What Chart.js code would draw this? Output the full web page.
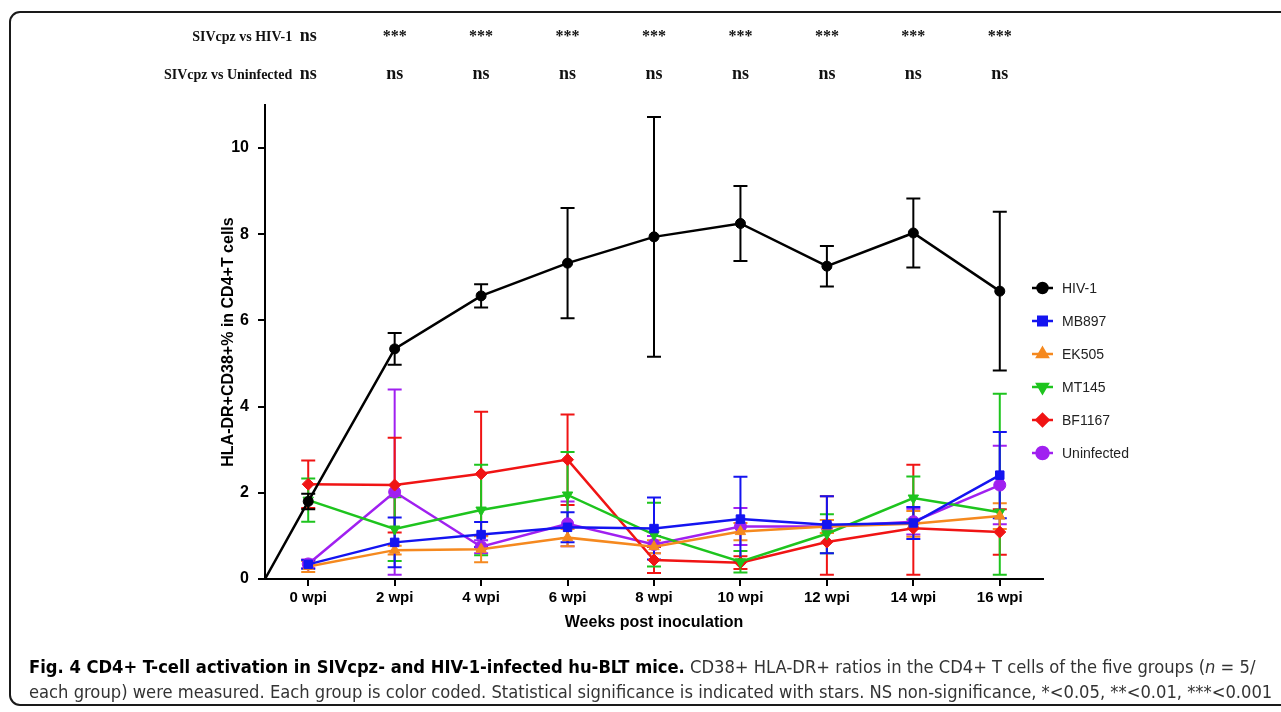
<!DOCTYPE html>
<html lang="en">
<head>
    <meta charset="UTF-8">
    <title>CD4+ T-cell activation</title>
    <script src="https://cdn.jsdelivr.net/npm/chart.js"></script>
    <style>
        html, body { margin: 0; padding: 0; background: #fff; overflow: hidden; }
        #frame {
            position: absolute; left: 9px; top: 11px; width: 1300px; height: 695px;
            border: 2px solid #1a1a1a; border-radius: 11px; box-sizing: border-box;
        }
        #chart-box { position: absolute; left: 0; top: 0; width: 1281px; height: 712px; }
        .caption {
            position: absolute; left: 29px; white-space: nowrap; color: #333;
            font-family: "Liberation Sans Narrow", "DejaVu Sans Condensed", "Liberation Sans", sans-serif;
            font-size: 18.2px;
        }
        .caption b { color: #000; }
    </style>
</head>
<body>
    <div id="frame"></div>
    <div id="chart-box"><canvas id="activation-chart"></canvas></div>
    <div class="caption" style="top:656px"><b>Fig. 4 CD4+ T-cell activation in SIVcpz- and HIV-1-infected hu-BLT mice.</b> CD38+ HLA-DR+ ratios in the CD4+ T cells of the five groups (<i>n</i> = 5/</div>
    <div class="caption" style="top:681px">each group) were measured. Each group is color coded. Statistical significance is indicated with stars. NS non-significance, *&lt;0.05, **&lt;0.01, ***&lt;0.001</div>

    <script>
        // weeks post inoculation
        const weeks = [0, 2, 4, 6, 8, 10, 12, 14, 16];
        const weekLabels = ['0 wpi', '2 wpi', '4 wpi', '6 wpi', '8 wpi', '10 wpi', '12 wpi', '14 wpi', '16 wpi'];
        const yTicks = [0, 2, 4, 6, 8, 10];

        // HIV-1 line starts from the axis origin
        const hivOrigin = [-1, 0];

        const hivValues = [1.8, 5.34, 6.57, 7.33, 7.94, 8.25, 7.26, 8.03, 6.68];
        const hivSem = [0.18, 0.37, 0.27, 1.28, 2.78, 0.87, 0.47, 0.8, 1.84];

        const mb897Values = [0.34, 0.85, 1.03, 1.2, 1.17, 1.39, 1.26, 1.3, 2.41];
        const mb897Sem = [0.1, 0.58, 0.29, 0.35, 0.72, 0.98, 0.66, 0.37, 1.0];

        const ek505Values = [0.29, 0.67, 0.69, 0.96, 0.75, 1.1, 1.22, 1.28, 1.46];
        const ek505Sem = [0.13, 0.1, 0.3, 0.2, 0.15, 0.2, 0.15, 0.3, 0.3];

        const mt145Values = [1.83, 1.16, 1.6, 1.95, 1.03, 0.4, 1.05, 1.88, 1.55];
        const mt145Sem = [0.5, 0.74, 1.05, 1.0, 0.74, 0.25, 0.45, 0.5, 2.75];

        const bf1167Values = [2.2, 2.18, 2.44, 2.77, 0.44, 0.38, 0.86, 1.18, 1.09];
        const bf1167Sem = [0.55, 1.1, 1.44, 1.05, 0.3, 0.15, 1.06, 1.47, 0.53];

        const uninfValues = [0.35, 2.02, 0.75, 1.28, 0.8, 1.22, 1.22, 1.33, 2.18];
        const uninfSem = [0.1, 2.38, 0.15, 0.52, 0.2, 0.43, 0.15, 0.3, 0.91];

        // significance rows above the plot
        const sigVsHiv = ['ns', '***', '***', '***', '***', '***', '***', '***', '***'];
        const sigVsUninfected = ['ns', 'ns', 'ns', 'ns', 'ns', 'ns', 'ns', 'ns', 'ns'];

        const groups = [
            { label: 'HIV-1', values: hivValues, sem: hivSem, color: '#000000', style: 'circle', radius: 5, rotation: 0 },
            { label: 'MB897', values: mb897Values, sem: mb897Sem, color: '#1414f0', style: 'rect', radius: 6, rotation: 0 },
            { label: 'EK505', values: ek505Values, sem: ek505Sem, color: '#f5891f', style: 'triangle', radius: 6, rotation: 0 },
            { label: 'MT145', values: mt145Values, sem: mt145Sem, color: '#1ec41e', style: 'triangle', radius: 6, rotation: 180 },
            { label: 'BF1167', values: bf1167Values, sem: bf1167Sem, color: '#f01414', style: 'rectRot', radius: 6, rotation: 0 },
            { label: 'Uninfected', values: uninfValues, sem: uninfSem, color: '#a020f0', style: 'circle', radius: 6, rotation: 0 }
        ];

        function buildDataset(g, i) {
            const pts = weeks.map((w, j) => ({ x: w, y: g.values[j] }));
            if (i === 0) pts.unshift({ x: hivOrigin[0], y: hivOrigin[1] });
            return {
                label: g.label,
                data: pts,
                borderColor: g.color,
                backgroundColor: g.color,
                borderWidth: 2.5,
                tension: 0,
                fill: false,
                pointStyle: g.style,
                rotation: g.rotation,
                pointRadius: ctx => (i === 0 && ctx.dataIndex === 0) ? 0 : g.radius,
                pointBorderWidth: 1,
                pointHoverRadius: g.radius
            };
        }

        const errorBars = {
            id: 'errorBars',
            beforeDatasetsDraw(chart) {
                const { ctx, scales: { x, y } } = chart;
                ctx.save();
                ctx.lineWidth = 2;
                groups.slice().reverse().forEach(g => {
                    ctx.strokeStyle = g.color;
                    weeks.forEach((w, j) => {
                        const px = x.getPixelForValue(w);
                        const top = y.getPixelForValue(g.values[j] + g.sem[j]);
                        // low whiskers stop just above the axis
                        const bot = y.getPixelForValue(Math.max(g.values[j] - g.sem[j], 0.1));
                        ctx.beginPath();
                        ctx.moveTo(px, top); ctx.lineTo(px, bot);
                        ctx.moveTo(px - 7, top); ctx.lineTo(px + 7, top);
                        ctx.moveTo(px - 7, bot); ctx.lineTo(px + 7, bot);
                        ctx.stroke();
                    });
                });
                ctx.restore();
            }
        };

        const sideLegend = {
            id: 'sideLegend',
            afterDraw(chart) {
                const ctx = chart.ctx;
                ctx.save();
                groups.forEach((g, i) => {
                    const yy = 288 + i * 33;
                    ctx.strokeStyle = g.color;
                    ctx.fillStyle = g.color;
                    ctx.lineWidth = 2.5;
                    ctx.beginPath();
                    ctx.moveTo(1032, yy); ctx.lineTo(1053, yy);
                    ctx.stroke();
                    if (Chart.helpers && Chart.helpers.drawPoint) {
                        Chart.helpers.drawPoint(ctx, { pointStyle: g.style, radius: g.radius, rotation: g.rotation, borderWidth: 1 }, 1042.5, yy);
                    } else {
                        ctx.beginPath(); ctx.arc(1042.5, yy, 5, 0, Math.PI * 2); ctx.fill();
                    }
                    ctx.fillStyle = '#222';
                    ctx.font = '14px "Liberation Sans", Arial, sans-serif';
                    ctx.textAlign = 'left';
                    ctx.textBaseline = 'middle';
                    ctx.fillText(g.label, 1062, yy + 1);
                });
                ctx.restore();
            }
        };

        const sigRows = {
            id: 'sigRows',
            afterDraw(chart) {
                const ctx = chart.ctx;
                const x = chart.scales.x;
                const rows = [
                    { name: 'SIVcpz vs HIV-1', marks: sigVsHiv, y: 37 },
                    { name: 'SIVcpz vs Uninfected', marks: sigVsUninfected, y: 75 }
                ];
                ctx.save();
                ctx.fillStyle = '#111';
                ctx.textBaseline = 'middle';
                rows.forEach(r => {
                    ctx.textAlign = 'right';
                    ctx.font = 'bold 14px "Liberation Serif", "Times New Roman", serif';
                    ctx.fillText(r.name, x.getPixelForValue(weeks[0]) - 16, r.y);
                    ctx.textAlign = 'center';
                    r.marks.forEach((m, j) => {
                        ctx.font = m === 'ns' ? 'bold 18px "Liberation Serif", serif' : 'bold 16px "Liberation Serif", serif';
                        ctx.fillText(m, x.getPixelForValue(weeks[j]), m === 'ns' ? r.y - 1 : r.y);
                    });
                });
                ctx.restore();
            }
        };

        const axisFont = { family: '"Liberation Sans", Arial, sans-serif', weight: 'bold' };

        new Chart(document.getElementById('activation-chart'), {
            type: 'line',
            data: { datasets: groups.map(buildDataset) },
            options: {
                responsive: true,
                maintainAspectRatio: false,
                animation: false,
                layout: { padding: { left: 215, right: 238, top: 105, bottom: 76 } },
                plugins: { legend: { display: false }, tooltip: { enabled: false } },
                scales: {
                    x: {
                        type: 'linear',
                        min: -1,
                        max: 17,
                        afterBuildTicks: s => { s.ticks = weeks.map(v => ({ value: v })); },
                        afterFit: s => { s.height = 57; },
                        border: { display: true, color: '#000', width: 2 },
                        grid: { drawOnChartArea: false, drawTicks: true, tickLength: 7, color: '#000', lineWidth: 2 },
                        ticks: {
                            autoSkip: false, maxRotation: 0, padding: 3, color: '#000',
                            font: { ...axisFont, size: 15 },
                            callback: (v, i) => weekLabels[i]
                        },
                        title: {
                            display: true, text: 'Weeks post inoculation', color: '#000',
                            font: { ...axisFont, size: 16 }
                        }
                    },
                    y: {
                        min: 0,
                        max: 11,
                        afterBuildTicks: s => { s.ticks = yTicks.map(v => ({ value: v })); },
                        afterFit: s => { s.width = 50; },
                        border: { display: true, color: '#000', width: 2 },
                        grid: { drawOnChartArea: false, drawTicks: true, tickLength: 7, color: '#000', lineWidth: 2 },
                        ticks: { padding: 9, color: '#000', font: { ...axisFont, size: 16 } },
                        title: {
                            display: true, text: 'HLA-DR+CD38+% in CD4+T cells', color: '#000',
                            font: { ...axisFont, size: 16 }
                        }
                    }
                }
            },
            plugins: [errorBars, sideLegend, sigRows]
        });
    </script>
</body>
</html>
